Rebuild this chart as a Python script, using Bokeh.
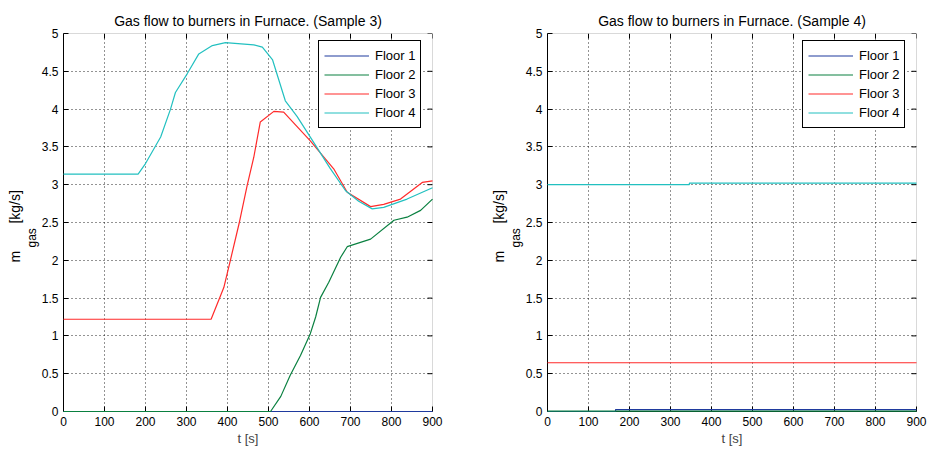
import math
from bokeh.plotting import figure
from bokeh.layouts import row
from bokeh.models import FixedTicker, Range1d, Title, BoxAnnotation
from bokeh.embed import file_html
from bokeh.resources import INLINE

# Legend entries and line colours
floor_names = ["Floor 1", "Floor 2", "Floor 3", "Floor 4"]
floor_colors = ["#1f3a9e", "#0a8040", "#ff2a2a", "#22c0c0"]

# Axis ticks
x_ticks = [0, 100, 200, 300, 400, 500, 600, 700, 800, 900]
y_ticks = [0.0, 0.5, 1.0, 1.5, 2.0, 2.5, 3.0, 3.5, 4.0, 4.5, 5.0]

# Sample 3: time [s] and gas mass flow [kg/s] per floor
s3_f1_t = [0, 900]
s3_f1_m = [0.0, 0.0]
s3_f2_t = [0, 505, 530, 553, 578, 602, 615, 627, 647, 676, 692, 749, 806, 838, 871, 900]
s3_f2_m = [0.0, 0.0, 0.2, 0.48, 0.74, 1.03, 1.25, 1.51, 1.71, 2.04, 2.18, 2.28, 2.53, 2.57, 2.66, 2.81]
s3_f3_t = [0, 360, 391, 407, 428, 448, 464, 480, 513, 537, 602, 659, 692, 749, 781, 822, 875, 900]
s3_f3_m = [1.22, 1.22, 1.64, 2.0, 2.48, 2.99, 3.36, 3.83, 3.97, 3.96, 3.58, 3.21, 2.90, 2.71, 2.74, 2.81, 3.03, 3.05]
s3_f4_t = [0, 182, 200, 237, 261, 273, 302, 330, 363, 395, 464, 485, 510, 541, 570, 602, 650, 688, 720, 753, 781, 838, 900]
s3_f4_m = [3.14, 3.14, 3.28, 3.63, 4.0, 4.22, 4.47, 4.73, 4.84, 4.88, 4.85, 4.82, 4.65, 4.11, 3.9, 3.63, 3.22, 2.92, 2.78, 2.68, 2.70, 2.81, 2.96]

# Sample 4
s4_f1_t = [0, 166, 166, 900]
s4_f1_m = [0.0, 0.0, 0.025, 0.025]
s4_f2_t = [0, 900]
s4_f2_m = [0.005, 0.005]
s4_f3_t = [0, 900]
s4_f3_m = [0.645, 0.645]
s4_f4_t = [0, 346, 346, 900]
s4_f4_m = [3.0, 3.0, 3.02, 3.02]

FONT = "Liberation Sans"
X_MIN, X_MAX = 0, 900
Y_MIN, Y_MAX = 0, 5
NBSP = "\u00a0"


def make_panel(title, series, width, border_left, border_right):
    p = figure(width=width, height=453, x_range=Range1d(X_MIN, X_MAX), y_range=Range1d(Y_MIN, Y_MAX),
               output_backend="svg", toolbar_location=None,
               min_border_left=border_left, min_border_right=border_right,
               min_border_top=33, min_border_bottom=42,
               background_fill_color="white", border_fill_color="white")
    p.outline_line_color = None
    # axes box drawn beneath the data lines
    p.add_layout(BoxAnnotation(left=X_MIN, right=X_MAX, bottom=Y_MIN, top=Y_MAX,
                               fill_alpha=0, line_color="black", line_width=1,
                               level="underlay"))

    p.title.text = title
    p.title.align = "center"
    p.title.text_font = FONT
    p.title.text_font_size = "14px"
    p.title.text_font_style = "normal"
    p.title.text_color = "black"

    for ax in (p.xaxis[0], p.yaxis[0]):
        ax.major_tick_in = 5
        ax.major_tick_out = 0
        ax.minor_tick_line_color = None
        ax.axis_line_color = "black"
        ax.major_tick_line_color = "black"
        ax.major_label_text_font = FONT
        ax.major_label_text_font_size = "12px"
        ax.major_label_text_color = "black"
        ax.major_label_standoff = 5
    p.xaxis.ticker = FixedTicker(ticks=x_ticks)
    p.yaxis.ticker = FixedTicker(ticks=y_ticks)
    p.yaxis.major_label_overrides = {v: f"{v:g}" for v in y_ticks}
    p.xaxis.axis_label = "t [s]"
    p.xaxis.axis_label_text_font = FONT
    p.xaxis.axis_label_text_font_size = "13px"
    p.xaxis.axis_label_text_font_style = "normal"
    p.xaxis.axis_label_standoff = 2

    p.grid.grid_line_color = "black"
    p.grid.grid_line_dash = "1 3"
    p.grid.grid_line_alpha = 0.85
    p.xgrid.ticker = FixedTicker(ticks=x_ticks)
    p.ygrid.ticker = FixedTicker(ticks=y_ticks)

    # inward ticks along the top and right edges of the box
    p.ray(x=x_ticks, y=[Y_MAX] * len(x_ticks), length=5, length_units="screen",
          angle=-math.pi / 2, line_color="black", line_width=1)
    p.ray(x=[X_MAX] * len(y_ticks), y=y_ticks, length=5, length_units="screen",
          angle=math.pi, line_color="black", line_width=1)

    for name, color, (t, m) in zip(floor_names, floor_colors, series):
        p.line(t, m, line_color=color, line_width=1.2, legend_label=name, level="overlay")

    lg = p.legend[0]
    lg.location = (255, 283)
    lg.border_line_color = "black"
    lg.border_line_width = 1
    lg.border_line_alpha = 1.0
    lg.background_fill_color = "white"
    lg.background_fill_alpha = 1.0
    lg.label_text_font = FONT
    lg.label_text_font_size = "13px"
    lg.label_text_color = "black"
    lg.glyph_width = 45
    lg.glyph_height = 19
    lg.label_height = 19
    lg.label_standoff = 6
    lg.padding = 5
    lg.spacing = 0
    lg.margin = 0

    # y-axis label: m with subscript "gas", followed by the unit
    p.add_layout(Title(text="gas", align="left", offset=164, standoff=0,
                       text_font=FONT, text_font_size="12px", text_font_style="normal",
                       text_color="black"), "left")
    p.add_layout(Title(text="m" + NBSP * 7 + "[kg/s]", align="left", offset=149, standoff=0,
                       text_font=FONT, text_font_size="14px", text_font_style="normal",
                       text_color="black"), "left")
    return p


left = make_panel("Gas flow to burners in Furnace. (Sample 3)",
                  [(s3_f1_t, s3_f1_m), (s3_f2_t, s3_f2_m), (s3_f3_t, s3_f3_m), (s3_f4_t, s3_f4_m)],
                  465, 63, 33)
right = make_panel("Gas flow to burners in Furnace. (Sample 4)",
                   [(s4_f1_t, s4_f1_m), (s4_f2_t, s4_f2_m), (s4_f3_t, s4_f3_m), (s4_f4_t, s4_f4_m)],
                   465, 82, 14)

layout = row(left, right, spacing=0)
open("out.html", "w").write(file_html(layout, INLINE))
